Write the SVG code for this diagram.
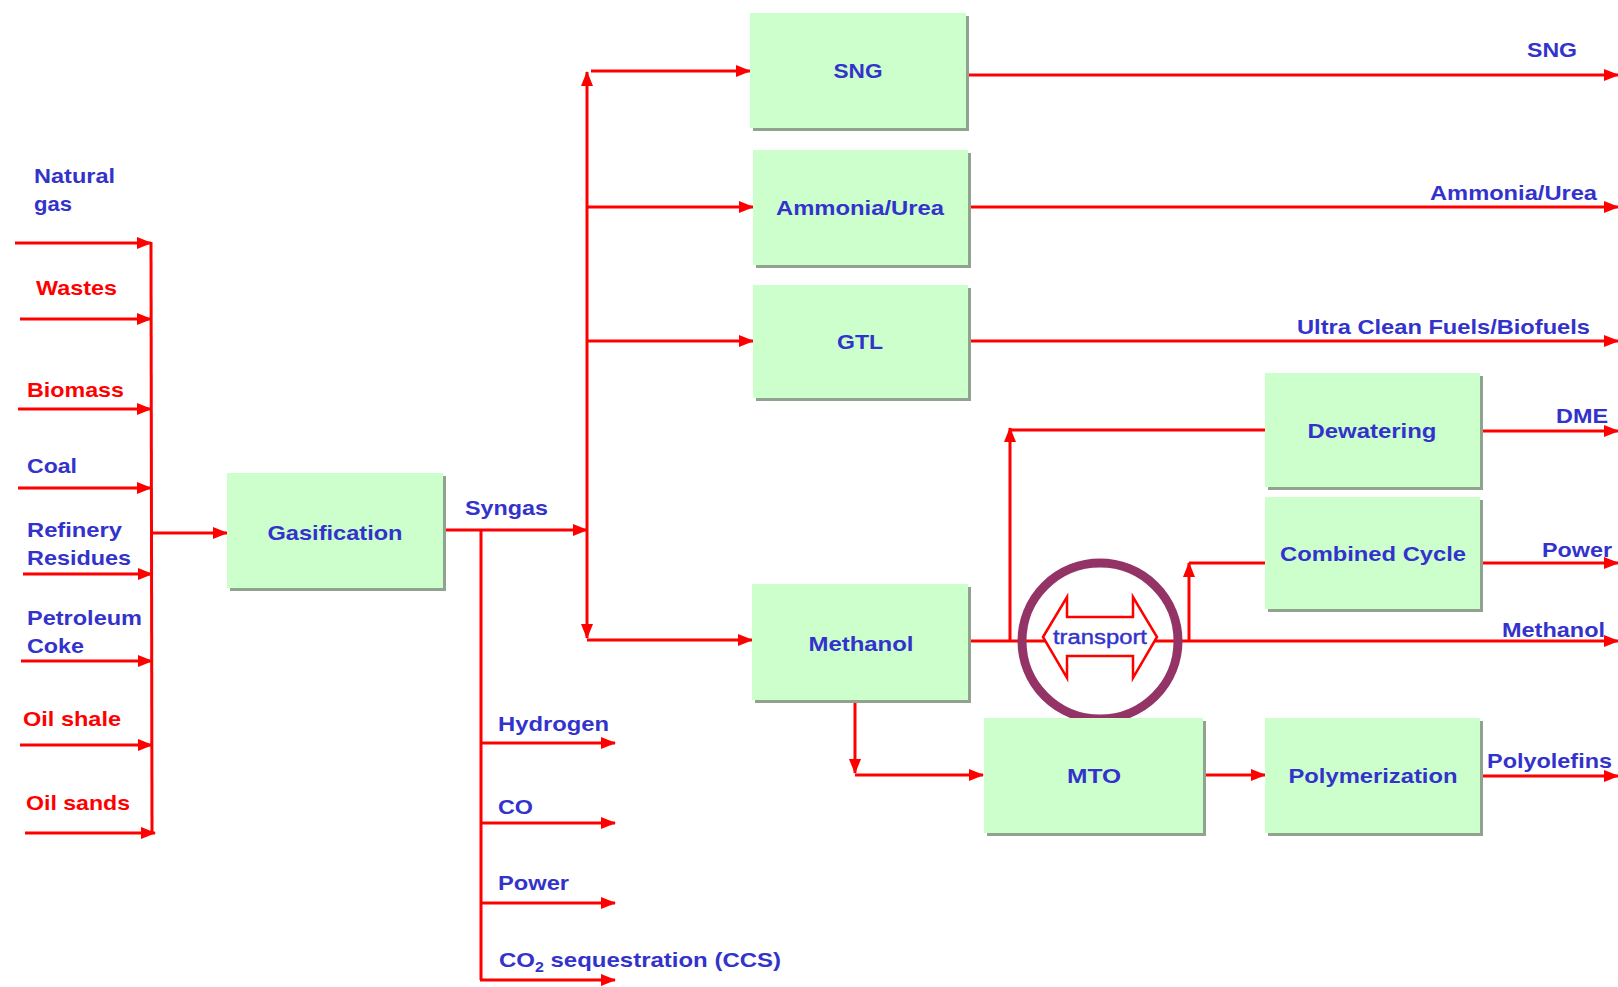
<svg xmlns="http://www.w3.org/2000/svg" width="1618" height="987" viewBox="0 0 1618 987">
<defs>
<marker id="ah" markerWidth="15" markerHeight="12" refX="14" refY="6" orient="auto" markerUnits="userSpaceOnUse">
<path d="M0,0 L15,6 L0,12 z" fill="#FF0000"/>
</marker>
</defs>
<style>
.box{fill:#CCFFCC;}
.sh{fill:#8FA38F;}
.t{font-family:"Liberation Sans",Arial,sans-serif;font-weight:bold;font-size:21px;fill:#3333CC;}
.r{fill:#FF0000;}
.c{text-anchor:middle;}
.ln{stroke:#FF0000;stroke-width:3;fill:none;}
.a{marker-end:url(#ah);}
</style>
<rect width="1618" height="987" fill="#FFFFFF"/>

<g id="connectors">
<line class="ln a" x1="15" y1="243" x2="151" y2="243"/>
<line class="ln a" x1="20" y1="319" x2="151" y2="319"/>
<line class="ln a" x1="18" y1="409" x2="151" y2="409"/>
<line class="ln a" x1="18" y1="488" x2="151" y2="488"/>
<line class="ln a" x1="23" y1="574" x2="152" y2="574"/>
<line class="ln a" x1="21" y1="661" x2="152" y2="661"/>
<line class="ln a" x1="20" y1="745" x2="152" y2="745"/>
<line class="ln a" x1="25" y1="833" x2="155" y2="833"/>
<line class="ln" x1="151" y1="242" x2="152" y2="834"/>
<line class="ln a" x1="151" y1="533" x2="227" y2="533"/>
<line class="ln a" x1="443" y1="530" x2="587" y2="530"/>
<line class="ln a" x1="587" y1="530" x2="587" y2="72"/>
<line class="ln a" x1="587" y1="530" x2="587" y2="638"/>
<line class="ln a" x1="587" y1="640" x2="752" y2="640"/>
<line class="ln a" x1="591" y1="71" x2="750" y2="71"/>
<line class="ln a" x1="587" y1="207" x2="753" y2="207"/>
<line class="ln a" x1="587" y1="341" x2="753" y2="341"/>
<line class="ln" x1="481" y1="530" x2="481" y2="980"/>
<line class="ln a" x1="481" y1="743" x2="615" y2="743"/>
<line class="ln a" x1="481" y1="823" x2="615" y2="823"/>
<line class="ln a" x1="481" y1="903" x2="615" y2="903"/>
<line class="ln a" x1="480" y1="980" x2="615" y2="980"/>
<line class="ln a" x1="966" y1="75" x2="1618" y2="75"/>
<line class="ln a" x1="968" y1="207" x2="1618" y2="207"/>
<line class="ln a" x1="968" y1="341" x2="1618" y2="341"/>
<line class="ln a" x1="1480" y1="431" x2="1618" y2="431"/>
<line class="ln a" x1="1480" y1="563" x2="1618" y2="563"/>
<line class="ln a" x1="968" y1="641" x2="1618" y2="641"/>
<line class="ln a" x1="1480" y1="776" x2="1618" y2="776"/>
<line class="ln a" x1="1010" y1="641" x2="1010" y2="428"/>
<line class="ln" x1="1010" y1="430" x2="1265" y2="430"/>
<line class="ln a" x1="1189" y1="641" x2="1189" y2="563"/>
<line class="ln" x1="1189" y1="563" x2="1265" y2="563"/>
<line class="ln a" x1="855" y1="700" x2="855" y2="773"/>
<line class="ln a" x1="855" y1="775" x2="983" y2="775"/>
<line class="ln a" x1="1203" y1="775" x2="1265" y2="775"/>
</g>

<g id="transport">
<circle cx="1100" cy="641" r="78" fill="none" stroke="#933366" stroke-width="9"/>
<polygon points="1043,637 1067,597 1067,617 1133,617 1133,597 1157,637 1133,678 1133,656 1067,656 1067,678" fill="#FFFFFF" stroke="#FF0000" stroke-width="2.5"/>
<text x="1100" y="644" text-anchor="middle" font-family="Liberation Sans, Arial, sans-serif" font-size="20" fill="#3333CC" stroke="#3333CC" stroke-width="0.4" textLength="94" lengthAdjust="spacingAndGlyphs">transport</text>
</g>

<g id="gasification">
<rect class="sh" x="230" y="476" width="216" height="115"/>
<rect class="box" x="227" y="473" width="216" height="115"/>
<text class="t c" x="335" y="540" textLength="135" lengthAdjust="spacingAndGlyphs">Gasification</text>
</g>
<g id="sng">
<rect class="sh" x="753" y="16" width="216" height="115"/>
<rect class="box" x="750" y="13" width="216" height="115"/>
<text class="t c" x="858" y="78" textLength="49" lengthAdjust="spacingAndGlyphs">SNG</text>
</g>
<g id="ammonia">
<rect class="sh" x="756" y="153" width="215" height="115"/>
<rect class="box" x="753" y="150" width="215" height="115"/>
<text class="t c" x="860" y="215" textLength="168" lengthAdjust="spacingAndGlyphs">Ammonia/Urea</text>
</g>
<g id="gtl">
<rect class="sh" x="756" y="288" width="215" height="113"/>
<rect class="box" x="753" y="285" width="215" height="113"/>
<text class="t c" x="860" y="349" textLength="46" lengthAdjust="spacingAndGlyphs">GTL</text>
</g>
<g id="methanol">
<rect class="sh" x="755" y="587" width="216" height="116"/>
<rect class="box" x="752" y="584" width="216" height="116"/>
<text class="t c" x="861" y="651" textLength="105" lengthAdjust="spacingAndGlyphs">Methanol</text>
</g>
<g id="mto">
<rect class="sh" x="987" y="721" width="219" height="115"/>
<rect class="box" x="984" y="718" width="219" height="115"/>
<text class="t c" x="1094" y="783" textLength="54" lengthAdjust="spacingAndGlyphs">MTO</text>
</g>
<g id="dewatering">
<rect class="sh" x="1268" y="376" width="215" height="114"/>
<rect class="box" x="1265" y="373" width="215" height="114"/>
<text class="t c" x="1372" y="438" textLength="129" lengthAdjust="spacingAndGlyphs">Dewatering</text>
</g>
<g id="combined-cycle">
<rect class="sh" x="1268" y="500" width="215" height="112"/>
<rect class="box" x="1265" y="497" width="215" height="112"/>
<text class="t c" x="1373" y="561" textLength="186" lengthAdjust="spacingAndGlyphs">Combined Cycle</text>
</g>
<g id="polymerization">
<rect class="sh" x="1268" y="721" width="215" height="115"/>
<rect class="box" x="1265" y="718" width="215" height="115"/>
<text class="t c" x="1373" y="783" textLength="169" lengthAdjust="spacingAndGlyphs">Polymerization</text>
</g>

<g id="feedstock-labels">
<text class="t" x="34" y="183" textLength="81" lengthAdjust="spacingAndGlyphs">Natural</text>
<text class="t" x="34" y="211" textLength="38" lengthAdjust="spacingAndGlyphs">gas</text>
<text class="t r" x="36" y="295" textLength="81" lengthAdjust="spacingAndGlyphs">Wastes</text>
<text class="t r" x="27" y="397" textLength="97" lengthAdjust="spacingAndGlyphs">Biomass</text>
<text class="t" x="27" y="473" textLength="50" lengthAdjust="spacingAndGlyphs">Coal</text>
<text class="t" x="27" y="537" textLength="95" lengthAdjust="spacingAndGlyphs">Refinery</text>
<text class="t" x="27" y="565" textLength="104" lengthAdjust="spacingAndGlyphs">Residues</text>
<text class="t" x="27" y="625" textLength="115" lengthAdjust="spacingAndGlyphs">Petroleum</text>
<text class="t" x="27" y="653" textLength="57" lengthAdjust="spacingAndGlyphs">Coke</text>
<text class="t r" x="23" y="726" textLength="98" lengthAdjust="spacingAndGlyphs">Oil shale</text>
<text class="t r" x="26" y="810" textLength="104" lengthAdjust="spacingAndGlyphs">Oil sands</text>
</g>

<g id="product-labels">
<text class="t" x="465" y="515" textLength="83" lengthAdjust="spacingAndGlyphs">Syngas</text>
<text class="t" x="498" y="731" textLength="111" lengthAdjust="spacingAndGlyphs">Hydrogen</text>
<text class="t" x="498" y="814" textLength="35" lengthAdjust="spacingAndGlyphs">CO</text>
<text class="t" x="498" y="890" textLength="71" lengthAdjust="spacingAndGlyphs">Power</text>
<text class="t" x="499" y="967" textLength="282" lengthAdjust="spacingAndGlyphs">CO<tspan font-size="14" dy="5">2</tspan><tspan dy="-5"> sequestration (CCS)</tspan></text>
<text class="t" x="1527" y="57" textLength="50" lengthAdjust="spacingAndGlyphs">SNG</text>
<text class="t" x="1430" y="200" textLength="167" lengthAdjust="spacingAndGlyphs">Ammonia/Urea</text>
<text class="t" x="1297" y="334" textLength="293" lengthAdjust="spacingAndGlyphs">Ultra Clean Fuels/Biofuels</text>
<text class="t" x="1556" y="423" textLength="52" lengthAdjust="spacingAndGlyphs">DME</text>
<text class="t" x="1542" y="557" textLength="70" lengthAdjust="spacingAndGlyphs">Power</text>
<text class="t" x="1502" y="637" textLength="103" lengthAdjust="spacingAndGlyphs">Methanol</text>
<text class="t" x="1487" y="768" textLength="125" lengthAdjust="spacingAndGlyphs">Polyolefins</text>
</g>
</svg>
